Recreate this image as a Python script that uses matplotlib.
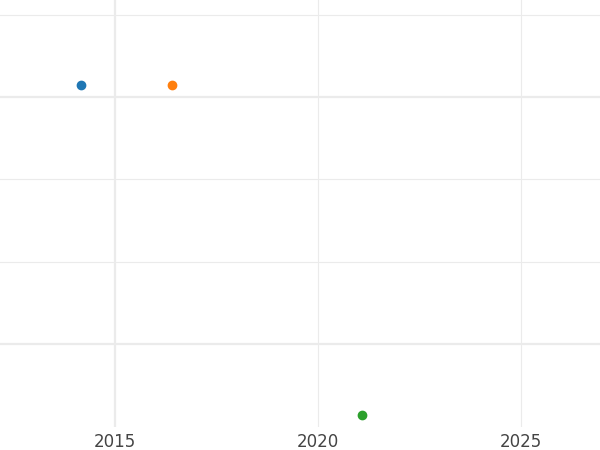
import matplotlib.pyplot as plt

# data
years = [2014.16, 2016.40, 2021.08]
values = [3.15, 3.15, -0.86]
colors = ["#1f77b4", "#ff7f0e", "#2ca02c"]

x_ticks = [2015, 2020, 2025]
y_thin = [4, 2, 1]
y_thick = [3, 0]

fig = plt.figure(figsize=(6, 4.5), dpi=100)
ax = fig.add_axes([0, 1 - 427 / 450, 1, 427 / 450])

grid_color = "#ebebeb"
for y in y_thin:
    ax.axhline(y, color=grid_color, lw=0.8, zorder=0)
for y in y_thick:
    ax.axhline(y, color=grid_color, lw=1.6, zorder=0)
ax.axvline(2015, color=grid_color, lw=1.6, zorder=0)
for x in x_ticks[1:]:
    ax.axvline(x, color=grid_color, lw=0.8, zorder=0)

for x, y, c in zip(years, values, colors):
    ax.plot(x, y, "o", color=c, markersize=6, zorder=3)

ax.set_xlim(2012.17, 2026.95)
ax.set_ylim(-1.01, 4.18)
ax.set_xticks(x_ticks)
ax.set_yticks([])
ax.tick_params(axis="x", length=0, pad=4, labelsize=12, labelcolor="#444444")
for s in ax.spines.values():
    s.set_visible(False)

fig.savefig("out.png", dpi=100)
